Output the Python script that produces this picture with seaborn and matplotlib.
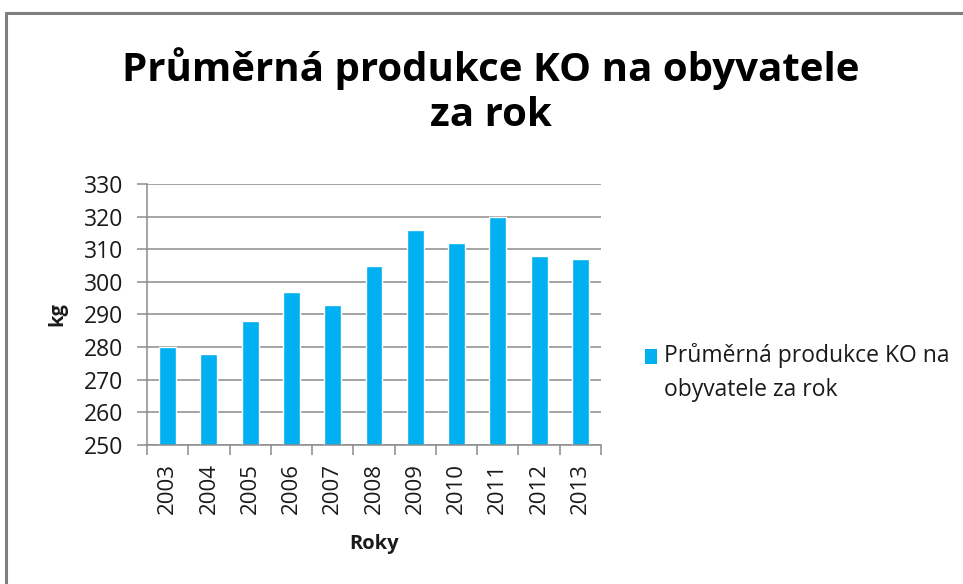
import matplotlib
matplotlib.use("Agg")
import matplotlib.pyplot as plt
import seaborn as sns
import pandas as pd
import numpy as np
from matplotlib.lines import Line2D
from matplotlib.patches import Rectangle

years = ["2003", "2004", "2005", "2006", "2007", "2008", "2009", "2010", "2011", "2012", "2013"]
values = [280, 278, 288, 297, 293, 305, 316, 312, 320, 308, 307]
series_label = "Průměrná produkce KO na\nobyvatele za rok"
title = "Průměrná produkce KO na obyvatele\nza rok"
y_ticks = [250, 260, 270, 280, 290, 300, 310, 320, 330]

sns.set_theme(style="white")
plt.rcParams['font.family'] = ['Open Sans', 'DejaVu Sans']

BAR = "#00B0F0"
GRID = "#8c8c8c"
TXT = "#1a1a1a"

df = pd.DataFrame({"Roky": years, "kg": values})

fig = plt.figure(figsize=(9.63, 5.84), dpi=100)
ax = fig.add_axes([147/963, 1-445/584, (601-147)/963, (445-184)/584])

sns.barplot(data=df, x="Roky", y="kg", color=BAR, width=0.41, ax=ax, saturation=1)

ax.set_ylim(250, 330)
ax.set_xlim(-0.5, len(years) - 0.5)
ax.set_yticks(y_ticks)
ax.set_yticklabels([str(t) for t in y_ticks], fontsize=16.5, color=TXT)
ax.yaxis.grid(True, color=GRID, linewidth=1.1)
ax.set_axisbelow(True)

ax.set_xticks(range(len(years)))
ax.set_xticklabels(years, rotation=90, fontsize=16, color=TXT)
ax.tick_params(axis="x", which="major", length=0, pad=13)
ax.set_xticks(np.arange(-0.5, len(years), 1), minor=True)
ax.tick_params(axis="x", which="minor", length=7, color=GRID, width=1.1, direction="out", bottom=True)
ax.tick_params(axis="y", length=7, color=GRID, width=1.1, direction="out", left=True, pad=10)

for s in ["top", "right"]:
    ax.spines[s].set_visible(False)
for s in ["left", "bottom"]:
    ax.spines[s].set_color(GRID)
    ax.spines[s].set_linewidth(1.1)

ax.set_xlabel("Roky", fontsize=14.5, fontweight="bold", labelpad=14, color=TXT)
ax.set_ylabel("kg", fontsize=14.5, fontweight="bold", labelpad=12, color=TXT)

fig.text(0.51, 1 - 91/584, title, ha="center", va="center", fontsize=29,
         fontweight="bold", linespacing=1.2, color="black")

# legend
fig.add_artist(Rectangle((645/963, 1 - 364/584), 12/963, 15/584,
                         transform=fig.transFigure, facecolor=BAR, edgecolor="none"))
fig.text(664/963, 1 - 343/584, series_label, ha="left", va="top", fontsize=16.5,
         linespacing=1.55, color=TXT)

fig.add_artist(Line2D([6/963, 1], [1 - 13/584, 1 - 13/584], color="#7f7f7f", linewidth=2.2))
fig.add_artist(Line2D([6/963, 6/963], [0, 1 - 13/584], color="#7f7f7f", linewidth=2.2))

fig.savefig("out.png", dpi=100)
